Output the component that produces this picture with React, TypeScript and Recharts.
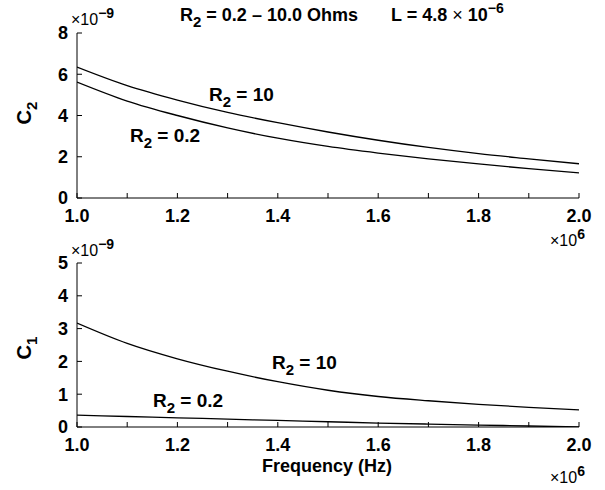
import { Line, LineChart, XAxis, YAxis } from 'recharts';

// frequency in units of 1e6 Hz
const FREQ = [1.0, 1.1, 1.2, 1.3, 1.4, 1.5, 1.6, 1.7, 1.8, 1.9, 2.0];

// C2 in units of 1e-9
const C2_R10 = [6.35, 5.45, 4.75, 4.15, 3.65, 3.2, 2.8, 2.45, 2.15, 1.9, 1.66];
const C2_R02 = [5.62, 4.7, 4.0, 3.4, 2.9, 2.5, 2.18, 1.9, 1.65, 1.42, 1.22];

// C1 in units of 1e-9
const C1_R10 = [3.17, 2.55, 2.08, 1.7, 1.38, 1.12, 0.93, 0.8, 0.69, 0.6, 0.52];
const C1_R02 = [0.36, 0.32, 0.28, 0.24, 0.2, 0.16, 0.12, 0.09, 0.06, 0.03, 0.0];

const FREQ_TICKS = [1.0, 1.1, 1.2, 1.3, 1.4, 1.5, 1.6, 1.7, 1.8, 1.9, 2.0];
const C2_TICKS = [0, 2, 4, 6, 8];
const C1_TICKS = [0, 1, 2, 3, 4, 5];

const FONT = "'Liberation Sans', Arial, sans-serif";
const INK = '#000';

const c2Data = FREQ.map((f, i) => ({ f, r10: C2_R10[i], r02: C2_R02[i] }));
const c1Data = FREQ.map((f, i) => ({ f, r10: C1_R10[i], r02: C1_R02[i] }));

const labelStyle = { fontFamily: FONT, fontWeight: 700, fontSize: 18, fill: INK };

function BottomTick({ x, y, payload }: any) {
  const v = payload.value as number;
  const major = Math.round(v * 10) % 2 === 0;
  return (
    <g>
      <line x1={x} y1={y} x2={x} y2={y - 5} stroke={INK} />
      {major && (
        <text x={x} y={y + 24} textAnchor='middle' style={labelStyle}>
          {v.toFixed(1)}
        </text>
      )}
    </g>
  );
}

function TopTick({ x, y }: any) {
  return <line x1={x} y1={y} x2={x} y2={y + 5} stroke={INK} />;
}

function LeftTick({ x, y, payload }: any) {
  return (
    <g>
      <line x1={x} y1={y} x2={x + 5} y2={y} stroke={INK} />
      <text x={x - 9} y={y} dy='0.36em' textAnchor='end' style={labelStyle}>
        {payload.value}
      </text>
    </g>
  );
}

function RightTick({ x, y }: any) {
  return <line x1={x} y1={y} x2={x - 5} y2={y} stroke={INK} />;
}

function Panel({
  data,
  yTicks,
  yMax,
  height,
  top,
  bottomSpace,
}: {
  data: any[];
  yTicks: number[];
  yMax: number;
  height: number;
  top: number;
  bottomSpace: number;
}) {
  return (
    <LineChart
      width={605}
      height={height}
      data={data}
      margin={{ top, right: 26, bottom: 0, left: 37 }}
    >
      <XAxis
        dataKey='f'
        type='number'
        domain={[1, 2]}
        ticks={FREQ_TICKS}
        interval={0}
        height={bottomSpace}
        tickSize={0}
        tickMargin={0}
        tick={<BottomTick />}
        axisLine={{ stroke: INK }}
        allowDataOverflow
      />
      <XAxis
        xAxisId='top'
        dataKey='f'
        type='number'
        orientation='top'
        domain={[1, 2]}
        ticks={FREQ_TICKS}
        interval={0}
        height={0}
        tickSize={0}
        tickMargin={0}
        tick={<TopTick />}
        axisLine={{ stroke: INK }}
      />
      <YAxis
        type='number'
        domain={[0, yMax]}
        ticks={yTicks}
        interval={0}
        width={40}
        tickSize={0}
        tickMargin={0}
        tick={<LeftTick />}
        axisLine={{ stroke: INK }}
        allowDataOverflow
      />
      <YAxis
        yAxisId='right'
        orientation='right'
        type='number'
        domain={[0, yMax]}
        ticks={yTicks}
        interval={0}
        width={0}
        tickSize={0}
        tickMargin={0}
        tick={<RightTick />}
        axisLine={{ stroke: INK }}
      />
      <Line
        dataKey='r10'
        type='monotone'
        stroke={INK}
        strokeWidth={1.3}
        dot={false}
        isAnimationActive={false}
      />
      <Line
        dataKey='r02'
        type='monotone'
        stroke={INK}
        strokeWidth={1.3}
        dot={false}
        isAnimationActive={false}
      />
    </LineChart>
  );
}

function Sub({ label, sub, rest, x, y }: { label: string; sub: string; rest: string; x: number; y: number }) {
  return (
    <text x={x} y={y} style={{ ...labelStyle, fontSize: 19 }}>
      {label}
      <tspan dy={6} fontSize={15}>
        {sub}
      </tspan>
      <tspan dy={-6}>{rest}</tspan>
    </text>
  );
}

function Exp({ x, y, exp }: { x: number; y: number; exp: string }) {
  return (
    <text x={x} y={y} style={{ fontFamily: FONT, fontSize: 16, fill: INK }}>
      ×10
      <tspan dy={-7} fontSize={14} fontWeight={700}>
        {exp}
      </tspan>
    </text>
  );
}

export default function App() {
  return (
    <div style={{ position: 'absolute', left: 0, top: 0, width: 605, height: 490, background: '#fff' }}>
      <div style={{ position: 'absolute', left: 0, top: 0 }}>
        <Panel data={c2Data} yTicks={C2_TICKS} yMax={8} height={240} top={33} bottomSpace={42} />
      </div>
      <div style={{ position: 'absolute', left: 0, top: 240 }}>
        <Panel data={c1Data} yTicks={C1_TICKS} yMax={5} height={250} top={23} bottomSpace={63} />
      </div>
      <svg
        width={605}
        height={490}
        style={{ position: 'absolute', left: 0, top: 0, pointerEvents: 'none' }}
      >
        <Exp x={71} y={25} exp='−9' />
        <Exp x={71} y={256} exp='−9' />
        <Exp x={550} y={246} exp='6' />
        <Exp x={550} y={483} exp='6' />

        <text x={180} y={21} style={labelStyle}>
          R
          <tspan dy={6} fontSize={15}>
            2
          </tspan>
          <tspan dy={-6}> = 0.2 – 10.0 Ohms</tspan>
        </text>
        <text x={391} y={21} style={labelStyle}>
          L = 4.8 <tspan fontWeight={400}>×</tspan> 10
          <tspan dy={-8} fontSize={14}>
            −6
          </tspan>
        </text>

        <Sub label='R' sub='2' rest=' = 10' x={209} y={101} />
        <Sub label='R' sub='2' rest=' = 0.2' x={130} y={142} />
        <Sub label='R' sub='2' rest=' = 10' x={272} y={369} />
        <Sub label='R' sub='2' rest=' = 0.2' x={153} y={407} />

        <text transform='translate(31,113) rotate(-90)' textAnchor='middle' style={{ ...labelStyle, fontSize: 20 }}>
          C
          <tspan dy={6} fontSize={15}>
            2
          </tspan>
        </text>
        <text transform='translate(31,348) rotate(-90)' textAnchor='middle' style={{ ...labelStyle, fontSize: 20 }}>
          C
          <tspan dy={6} fontSize={15}>
            1
          </tspan>
        </text>

        <text x={327} y={472} textAnchor='middle' style={labelStyle}>
          Frequency (Hz)
        </text>
      </svg>
    </div>
  );
}
